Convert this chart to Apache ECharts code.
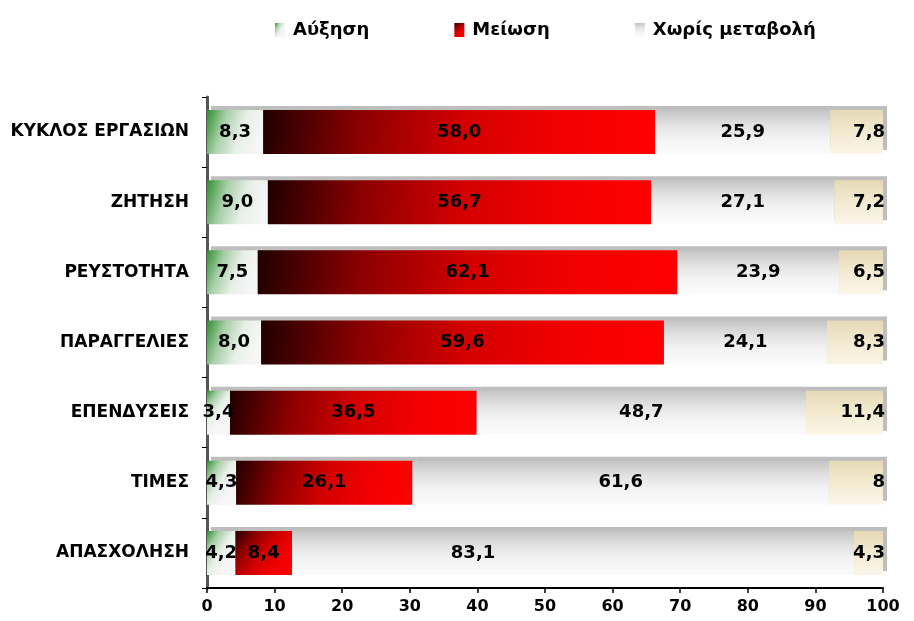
<!DOCTYPE html>
<html>
<head>
<meta charset="utf-8">
<script src="https://cdn.jsdelivr.net/npm/echarts@6/dist/echarts.min.js"></script>
<style>
  html, body { margin: 0; padding: 0; background: #fff; }
  #main { width: 914px; height: 621px; }
</style>
</head>
<body>
<div id="main"></div>
<script>
var categories = ['ΚΥΚΛΟΣ ΕΡΓΑΣΙΩΝ', 'ΖΗΤΗΣΗ', 'ΡΕΥΣΤΟΤΗΤΑ', 'ΠΑΡΑΓΓΕΛΙΕΣ', 'ΕΠΕΝΔΥΣΕΙΣ', 'ΤΙΜΕΣ', 'ΑΠΑΣΧΟΛΗΣΗ'];
var increase = [8.3, 9.0, 7.5, 8.0, 3.4, 4.3, 4.2];
var decrease = [58.0, 56.7, 62.1, 59.6, 36.5, 26.1, 8.4];
var noChange = [25.9, 27.1, 23.9, 24.1, 48.7, 61.6, 83.1];
var noAnswer = [7.8, 7.2, 6.5, 8.3, 11.4, 8, 4.3];
var xTicks = [0, 10, 20, 30, 40, 50, 60, 70, 80, 90, 100];

var font = 'DejaVu Sans';
var dom = document.getElementById('main');
var myChart = echarts.init(dom);

function grad(x2, y2, stops) {
    return new echarts.graphic.LinearGradient(0, 0, x2, y2, stops.map(function (c, i) {
        return { offset: i / (stops.length - 1), color: c };
    }));
}

var labelStyle = {
    show: true,
    position: 'inside',
    color: '#000',
    fontFamily: font,
    fontWeight: 'bold',
    fontSize: 18
};

function comma1(p) { return p.value.toFixed(1).replace('.', ','); }

function barSeries(name, data, color, formatter, extra) {
    return {
        name: name,
        type: 'bar',
        stack: 'all',
        barWidth: 44,
        data: data,
        itemStyle: {
            color: color,
            shadowColor: 'rgba(155,155,155,0.65)',
            shadowBlur: 0,
            shadowOffsetX: 4,
            shadowOffsetY: -4
        },
        label: Object.assign({}, labelStyle, { formatter: formatter }, extra || {})
    };
}

// the last "Χωρίς μεταβολή" label sits left of its bar centre in the original
var noChangeData = noChange.map(function (v, i) {
    return i === noChange.length - 1 ? { value: v, label: { offset: [-100, 0] } } : v;
});

var option = {
    animation: false,
    backgroundColor: '#fff',
    legend: {
        data: ['Αύξηση', 'Μείωση', 'Χωρίς μεταβολή'],
        left: 270,
        top: 16,
        icon: 'rect',
        itemWidth: 10,
        itemHeight: 14,
        itemGap: 85,
        textStyle: { fontFamily: font, fontWeight: 'bold', fontSize: 18, color: '#000', padding: [0, 0, 0, 3] }
    },
    grid: { left: 207, right: 31, top: 97, bottom: 33, containLabel: false },
    xAxis: {
        type: 'value',
        min: xTicks[0],
        max: xTicks[xTicks.length - 1],
        interval: 10,
        splitLine: { show: false },
        axisLine: { show: true, lineStyle: { color: '#000', width: 2 } },
        axisTick: { show: true, length: 5, lineStyle: { color: '#000', width: 1.5 } },
        axisLabel: { color: '#000', fontFamily: font, fontWeight: 'bold', fontSize: 16, margin: 11 }
    },
    yAxis: {
        type: 'category',
        inverse: true,
        data: categories,
        axisLine: { show: true, lineStyle: { color: '#555', width: 3 } },
        axisTick: { show: true, length: 5, lineStyle: { color: '#000' } },
        axisLabel: { color: '#000', fontFamily: font, fontWeight: 'bold', fontSize: 17, margin: 18 }
    },
    series: [
        barSeries('Αύξηση', increase, grad(1, 0.4, ['#2f8f2f', '#a9cfa9', '#e8f0e8', '#f6f6f6']), comma1),
        barSeries('Μείωση', decrease, grad(1, 1, ['#200000', '#8c0000', '#d20000', '#f20000', '#ff0000']), comma1),
        barSeries('Χωρίς μεταβολή', noChangeData, grad(0, 1, ['#c4c4c4', '#e2e2e2', '#f4f4f4', '#fbfbfb']), comma1),
        barSeries('ΔΓ/ΔΑ', noAnswer, grad(0, 1, ['#e6d9b6', '#f3ead0', '#fbf6ea']), function (p) {
            return String(p.value).replace('.', ',');
        }, { position: 'insideRight', distance: 2, offset: [4, 0] })
    ]
};
myChart.setOption(option, true);
</script>
</body>
</html>
